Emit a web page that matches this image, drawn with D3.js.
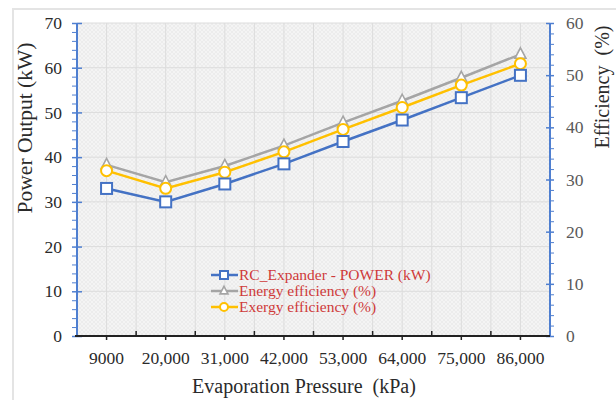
<!DOCTYPE html>
<html><head><meta charset="utf-8">
<script src="https://cdn.jsdelivr.net/npm/d3@7"></script>
<style>
html,body{margin:0;padding:0;background:#fff;}
svg{display:block;font-family:"Liberation Serif","Times New Roman",serif;}
</style></head>
<body>
<svg id="chart" width="616" height="400"></svg>
<script>
const categories = ["9000","20,000","31,000","42,000","53,000","64,000","75,000","86,000"];
const powerKW = [33, 30, 34, 38.5, 43.5, 48.3, 53.3, 58.3];
const energyEff = [32.8, 29.5, 32.6, 36.5, 40.9, 45.1, 49.5, 54.0];
const exergyEff = [31.7, 28.3, 31.4, 35.3, 39.6, 43.8, 48.1, 52.2];
const leftTicks = [0,10,20,30,40,50,60,70];
const rightTicks = [0,10,20,30,40,50,60];
const seriesNames = ["RC_Expander - POWER (kW)","Energy efficiency (%)","Exergy efficiency (%)"];

const svg = d3.select("#chart");
const L = 77, R = 550, T = 23, B = 336;

// outer frame
svg.append("rect").attr("x",13).attr("y",9).attr("width",700).attr("height",500)
  .attr("fill","#fff").attr("stroke","#e4e4e4").attr("stroke-width",2);

// pattern
const defs = svg.append("defs");
const pat = defs.append("pattern").attr("id","hatch").attr("patternUnits","userSpaceOnUse")
  .attr("width",4).attr("height",4);
pat.append("rect").attr("width",4).attr("height",4).attr("fill","#f4f4f4");
pat.append("path").attr("d","M0,4L4,0M0,0L4,4").attr("stroke","#e8e8e8").attr("stroke-width",0.7);

const x = d3.scaleBand().domain(categories).range([L,R]);
const yL = d3.scaleLinear().domain([0,70]).range([B,T]);
const yR = d3.scaleLinear().domain([0,60]).range([B,T]);

svg.append("rect").attr("x",L).attr("y",T).attr("width",R-L).attr("height",B-T).attr("fill","url(#hatch)");

// grid
const gridX = [];
categories.forEach(c => { gridX.push(x(c)); gridX.push(x(c)+x.bandwidth()/2); });
svg.append("g").selectAll("line").data(gridX.filter(v=>v>L+1)).join("line")
  .attr("x1",d=>d).attr("x2",d=>d).attr("y1",T).attr("y2",B)
  .attr("stroke","#dcdcdc").attr("stroke-width",1);
svg.append("g").selectAll("line").data(leftTicks.filter(v=>v>0)).join("line")
  .attr("x1",L).attr("x2",R).attr("y1",d=>yL(d)).attr("y2",d=>yL(d))
  .attr("stroke","#dcdcdc").attr("stroke-width",1);

const axisBlue = "#4f7fd0";
// left axis minor
svg.append("g").attr("transform",`translate(${L},0)`)
  .call(d3.axisLeft(yL).tickValues(d3.range(0,71,2).filter(v=>v%10!==0)).tickSize(5).tickFormat(""))
  .call(g=>{g.select(".domain").remove(); g.selectAll("line").attr("stroke",axisBlue);});
// left axis major
svg.append("g").attr("transform",`translate(${L},0)`)
  .call(d3.axisLeft(yL).tickValues(leftTicks).tickSize(5).tickPadding(10))
  .call(g=>{
    g.select(".domain").attr("stroke",axisBlue).attr("stroke-width",2).attr("d",`M0,${T}V${B}`);
    g.selectAll(".tick line").attr("stroke",axisBlue).attr("x1",5).attr("stroke-width",1.5);
    g.selectAll("text").attr("font-size",17.5).attr("fill","#2a2a2a").attr("font-family","Liberation Serif");
  });
// right axis minor
svg.append("g").attr("transform",`translate(${R},0)`)
  .call(d3.axisRight(yR).tickValues(d3.range(0,61,2).filter(v=>v%10!==0)).tickSize(4).tickFormat(""))
  .call(g=>{g.select(".domain").remove(); g.selectAll("line").attr("stroke",axisBlue);});
svg.append("g").attr("transform",`translate(${R},0)`)
  .call(d3.axisRight(yR).tickValues(rightTicks).tickSize(4).tickPadding(12))
  .call(g=>{
    g.select(".domain").attr("stroke",axisBlue).attr("stroke-width",2).attr("d",`M0,${T}V${B}`);
    g.selectAll(".tick line").attr("stroke",axisBlue).attr("x1",-4).attr("stroke-width",1.5);
    g.selectAll("text").attr("font-size",17.5).attr("fill","#595959").attr("font-family","Liberation Serif");
  });

// x axis
svg.append("g").attr("transform",`translate(0,${B})`)
  .call(d3.axisBottom(x).tickSize(4).tickPadding(12))
  .call(g=>{
    g.select(".domain").attr("stroke","#222").attr("stroke-width",2).attr("d",`M${L-2},0H${R}`);
    g.selectAll(".tick line").attr("stroke","#222").attr("stroke-width",1.5);
    g.selectAll("text").attr("font-size",17.5).attr("fill","#2a2a2a").attr("font-family","Liberation Serif");
  });
svg.append("g").selectAll("line").data(categories.slice(1)).join("line")
  .attr("x1",d=>x(d)).attr("x2",d=>x(d)).attr("y1",B).attr("y2",B-5)
  .attr("stroke","#222").attr("stroke-width",1.5);

// axis titles
svg.append("text").attr("x",304).attr("y",393).attr("text-anchor","middle")
  .attr("font-size",20).attr("fill","#2a2a2a").style("white-space","pre")
  .text("Evaporation Pressure  (kPa)");
svg.append("text").attr("transform","translate(32,128) rotate(-90)").attr("text-anchor","middle")
  .attr("font-size",21.5).attr("fill","#2a2a2a").text("Power Output (kW)");
svg.append("text").attr("transform","translate(609,87) rotate(-90)").attr("text-anchor","middle")
  .attr("font-size",20).attr("fill","#2a2a2a").style("white-space","pre").text("Efficiency  (%)");

const cx = c => x(c) + x.bandwidth()/2;
const colors = ["#4472c4","#a5a5a5","#ffc000"];
const datasets = [
  {vals: powerKW, scale: yL, color: colors[0], shape: "square"},
  {vals: energyEff, scale: yR, color: colors[1], shape: "triangle"},
  {vals: exergyEff, scale: yR, color: colors[2], shape: "circle"}
];
function marker(g, shape, color, size){
  if(shape==="square"){
    g.append("rect").attr("x",-size/2).attr("y",-size/2).attr("width",size).attr("height",size)
      .attr("fill","#fff").attr("stroke",color).attr("stroke-width",2);
  } else if(shape==="circle"){
    g.append("circle").attr("r",size/2).attr("fill","#fff").attr("stroke",color).attr("stroke-width",2);
  } else {
    const h=size*0.95, w=size;
    g.append("path").attr("d",`M0,${-h*0.62}L${w/2},${h*0.38}L${-w/2},${h*0.38}Z`)
      .attr("fill","#fff").attr("stroke",color).attr("stroke-width",1.6);
  }
}
[1,2,0].forEach(i=>{
  const ds = datasets[i];
  const line = d3.line().x((d,j)=>cx(categories[j])).y(d=>ds.scale(d));
  svg.append("path").datum(ds.vals).attr("d",line).attr("fill","none")
    .attr("stroke",ds.color).attr("stroke-width",2.5);
  ds.vals.forEach((v,j)=>{
    const g = svg.append("g").attr("transform",`translate(${cx(categories[j])},${ds.scale(v)})`);
    marker(g, ds.shape, ds.color, 11);
  });
});

// legend
const lg = svg.append("g");
seriesNames.forEach((name,i)=>{
  const yy = 275 + i*16;
  lg.append("line").attr("x1",211).attr("x2",238).attr("y1",yy).attr("y2",yy)
    .attr("stroke",datasets[i].color).attr("stroke-width",2.5);
  const g = lg.append("g").attr("transform",`translate(224,${yy})`);
  marker(g, datasets[i].shape, datasets[i].color, 8);
  lg.append("text").attr("x",239).attr("y",yy+5).attr("font-size",15.5).attr("fill","#cf3a3a").text(name);
});
</script>
</body></html>
